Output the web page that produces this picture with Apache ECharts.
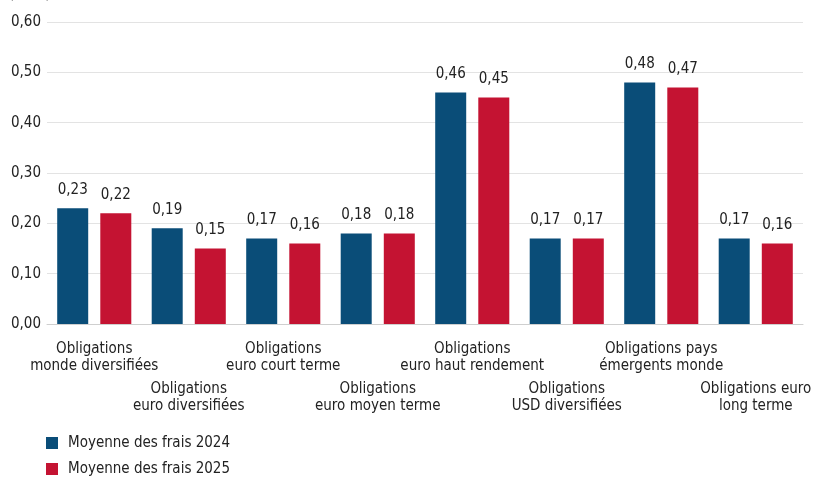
<!DOCTYPE html>
<html>
<head>
<meta charset="utf-8">
<script src="https://cdn.jsdelivr.net/npm/echarts@6/dist/echarts.min.js"></script>
<style>
  html, body { margin: 0; padding: 0; background: #fff; }
  #chart { width: 817px; height: 480px; }
</style>
</head>
<body>
<div id="chart"></div>
<script>
// Chart data
const categories = [
  "Obligations\nmonde diversifiées",
  "Obligations\neuro diversifiées",
  "Obligations\neuro court terme",
  "Obligations\neuro moyen terme",
  "Obligations\neuro haut rendement",
  "Obligations\nUSD diversifiées",
  "Obligations pays\némergents monde",
  "Obligations euro\nlong terme"
];
const fees2024 = [0.23, 0.19, 0.17, 0.18, 0.46, 0.17, 0.48, 0.17];
const fees2025 = [0.22, 0.15, 0.16, 0.18, 0.45, 0.17, 0.47, 0.16];
const seriesNames = ["Moyenne des frais 2024", "Moyenne des frais 2025"];

const font = '"Liberation Sans Narrow", "DejaVu Sans Condensed", sans-serif';
const fmt = v => v.toFixed(2).replace('.', ',');

const chart = echarts.init(document.getElementById('chart'));

// value label style shared by both series
const valueLabel = {
  show: true,
  position: 'top',
  distance: 11,
  color: '#222',
  fontFamily: font,
  fontSize: 15,
  formatter: p => fmt(p.value)
};

chart.setOption({
  animation: false,
  textStyle: { fontFamily: font },
  title: {
    text: '(en %)',
    left: 4,
    top: -17,
    textStyle: { fontFamily: font, fontSize: 14, fontWeight: 'normal', color: '#222' }
  },
  grid: { left: 47, right: 14, top: 22, bottom: 156 },
  legend: {
    orient: 'vertical',
    left: 46,
    top: 434,
    padding: 0,
    itemWidth: 12,
    itemHeight: 12,
    itemGap: 8,
    icon: 'rect',
    textStyle: { fontFamily: font, fontSize: 15, color: '#222', lineHeight: 18, padding: [0, 0, 0, 5] },
    data: seriesNames
  },
  xAxis: {
    type: 'category',
    data: categories,
    axisLine: { lineStyle: { color: '#cfcfcf', width: 1 } },
    axisTick: { show: false },
    axisLabel: {
      interval: 0,
      color: '#222',
      fontFamily: font,
      fontSize: 15,
      lineHeight: 17,
      margin: 17,
      // every second label sits one row lower
      formatter: (v, i) => (i % 2 === 1 ? '{g|}\n' + v : v),
      rich: { g: { lineHeight: 40, height: 40 } }
    }
  },
  yAxis: {
    type: 'value',
    min: 0,
    max: 0.6,
    interval: 0.1,
    axisLine: { show: false },
    axisTick: { show: false },
    splitLine: { lineStyle: { color: '#e3e3e3', width: 1 } },
    axisLabel: {
      color: '#222',
      fontFamily: font,
      fontSize: 15,
      margin: 6,
      formatter: v => fmt(v)
    }
  },
  series: [
    {
      name: seriesNames[0],
      type: 'bar',
      data: fees2024,
      barWidth: 31,
      barGap: '39%',
      itemStyle: { color: '#0a4d78' },
      label: valueLabel
    },
    {
      name: seriesNames[1],
      type: 'bar',
      data: fees2025,
      barWidth: 31,
      itemStyle: { color: '#c41332' },
      label: valueLabel
    }
  ]
});
</script>
</body>
</html>
